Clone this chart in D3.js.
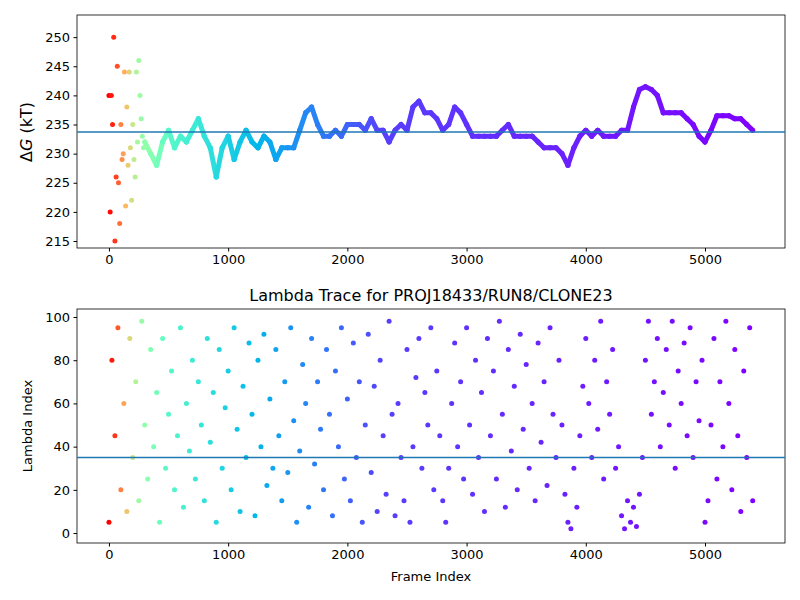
<!DOCTYPE html>
<html>
<head>
<meta charset="utf-8">
<script src="https://cdn.jsdelivr.net/npm/d3@7"></script>
<style>
  body { margin: 0; background: #fff; }
  text { font-family: "DejaVu Sans", sans-serif; }
</style>
</head>
<body>
<svg id="chart" width="800" height="600"></svg>
<script>
// free energy trace (frame, kT)
const dgFrames = [0,10,20,30,40,50,60,70,80,90,100,110,120,130,140,150,160,170,180,190,200,210,220,230,240,250,260,270,280,290,
  300,350,400,450,500,550,600,650,700,750,800,850,900,950,1000,1050,1100,1150,1200,1250,1300,1350,1400,1450,1500,1550,1600,1650,1700,1750,
  1800,1850,1900,1950,2000,2050,2100,2150,2200,2250,2300,2350,2400,2450,2500,2550,2600,2650,2700,2750,2800,2850,2900,2950,3000,3050,3100,3150,3200,3250,
  3300,3350,3400,3450,3500,3550,3600,3650,3700,3750,3800,3850,3900,3950,4000,4050,4100,4150,4200,4250,4300,4350,4400,4450,4500,4550,4600,4650,4700,4750,
  4800,4850,4900,4950,5000,5050,5100,5150,5200,5250,5300,5350,5400];
const dgValues = [240,220,240,235,250,215,226,245,225,218,235,229,230,244,221,238,228,244,231,222,235,229,226,244,232,246,240,236,233,231,
  232,230,228,232,234,231,233,232,234,236,233,231,226,231,233,229,232,234,232,231,233,232,229,231,231,231,234,237,238,235,
  233,233,234,233,235,235,235,234,236,234,234,232,234,235,234,238,239,237,237,236,234,235,238,237,235,233,233,233,233,233,
  234,235,233,233,233,233,232,231,231,231,230,228,231,233,234,233,234,233,233,233,234,234,238,241,241.5,241,240,237,237,237,
  237,236,235,233,232,234,236.5,236.5,236.5,236,236,235,234];
const dgMean = 233.7;
const dgSmoothFrom = 300; // trace becomes continuous after this frame

// lambda trace, sampled every 25 frames
const lamStep = 25;
const lamValues = [5,80,45,95,20,60,10,90, 35,70,15,98,50,25,85,40, 65,5,90,30,55,75,20,45, 95,12,60,38,80,25,70,50,
  15,90,42,65,5,85,30,58, 75,20,95,48,10,68,35,88, 55,8,80,40,92,22,62,30, 85,45,15,70,28,95,52,5,
  38,78,60,12,90,32,70,48, 20,85,55,8,75,40,95,25, 62,15,88,35,70,5,50,92, 28,68,10,80,45,18,98,55,
  8,60,35,15,85,5,40,72, 90,30,65,50,95,20,75,45, 15,5,30,60,88,40,70,25, 95,50,18,80,35,65,10,90,
  45,75,25,98,55,12,85,38, 68,20,92,48,78,30,60,15, 88,42,70,22,95,55,35,80, 50,18,5,2,30,12,45,68,
  90,60,35,80,48,98,25,70, 55,85,30,40,8,2,15,5, 12,3,18,35,80,98,55,70, 90,40,65,85,50,98,30,75,
  60,88,45,95,35,70,52,80, 5,15,50,90,25,70,40,98, 60,20,85,45,10,75,35,95, 15];
const lamMean = 35;

const xTicks = [0,1000,2000,3000,4000,5000];
const dgTicks = [215,220,225,230,235,240,245,250];
const lamTicks = [0,20,40,60,80,100];

// matplotlib "rainbow" colormap
function rainbow(t) {
  const r = Math.min(1, Math.abs(2 * t - 0.5));
  const g = Math.sin(Math.PI * t);
  const b = Math.cos(Math.PI * t / 2);
  return d3.rgb(r * 255, g * 255, b * 255);
}
const colorPos = d3.scaleLinear()
  .domain([0, 60, 150, 250, 500, 1000, 1500, 2300, 5400])
  .range([1, 0.92, 0.72, 0.56, 0.42, 0.3, 0.2, 0.08, 0])
  .clamp(true);
const col = f => rainbow(colorPos(f));

const svg = d3.select("#chart");
const L = 77, R = 785;
const x = d3.scaleLinear().domain([-268, 5671]).range([L, R]);

function panel(top, bottom, yDom, yTicks) {
  const y = d3.scaleLinear().domain(yDom).range([bottom, top]);
  const g = svg.append("g");
  g.append("g").attr("transform", `translate(0,${bottom})`)
    .call(d3.axisBottom(x).tickValues(xTicks).tickFormat(d3.format("d")).tickSize(3.5).tickPadding(3.5));
  g.append("g").attr("transform", `translate(${L},0)`)
    .call(d3.axisLeft(y).tickValues(yTicks).tickFormat(d3.format("d")).tickSize(3.5).tickPadding(3.5));
  g.selectAll(".domain").remove();
  g.selectAll(".tick text").attr("font-size", 13).attr("fill", "#000");
  g.append("rect").attr("x", L).attr("y", top).attr("width", R - L).attr("height", bottom - top)
    .attr("fill", "none").attr("stroke", "#000").attr("stroke-width", 0.8);
  return { g, y };
}

const p1 = panel(15, 248, [213.8, 253.8], dgTicks);
const marks1 = p1.g.insert("g", "rect");
const segs = d3.pairs(dgFrames.map((f, i) => [f, dgValues[i]])).filter(p => p[0][0] >= dgSmoothFrom);
marks1.selectAll("line").data(segs).join("line")
  .attr("x1", d => x(d[0][0])).attr("y1", d => p1.y(d[0][1]))
  .attr("x2", d => x(d[1][0])).attr("y2", d => p1.y(d[1][1]))
  .attr("stroke", d => col(d[0][0])).attr("stroke-width", 5).attr("stroke-linecap", "round");
marks1.selectAll("circle").data(dgFrames).join("circle")
  .attr("cx", d => x(d)).attr("cy", (d, i) => p1.y(dgValues[i])).attr("r", 2.5)
  .attr("fill", d => col(d));
p1.g.append("line").attr("x1", L).attr("x2", R).attr("y1", p1.y(dgMean)).attr("y2", p1.y(dgMean))
  .attr("stroke", "#1f77b4").attr("stroke-width", 1.5);
svg.append("text").attr("transform", "translate(32,132) rotate(-90)").attr("text-anchor", "middle")
  .attr("font-size", 16).html('Δ<tspan font-style="italic">G</tspan> (kT)');

const p2 = panel(309, 543, [-4.6, 103.7], lamTicks);
p2.g.insert("g", "rect").selectAll("circle").data(lamValues).join("circle")
  .attr("cx", (d, i) => x(i * lamStep)).attr("cy", d => p2.y(d)).attr("r", 2.5)
  .attr("fill", (d, i) => col(i * lamStep));
p2.g.append("line").attr("x1", L).attr("x2", R).attr("y1", p2.y(lamMean)).attr("y2", p2.y(lamMean))
  .attr("stroke", "#1f77b4").attr("stroke-width", 1.5);
svg.append("text").attr("transform", "translate(32,426) rotate(-90)").attr("text-anchor", "middle")
  .attr("font-size", 13).text("Lambda Index");
svg.append("text").attr("x", 431).attr("y", 581).attr("text-anchor", "middle")
  .attr("font-size", 13).text("Frame Index");
svg.append("text").attr("x", 431).attr("y", 301).attr("text-anchor", "middle")
  .attr("font-size", 16).text("Lambda Trace for PROJ18433/RUN8/CLONE23");
</script>
</body>
</html>
